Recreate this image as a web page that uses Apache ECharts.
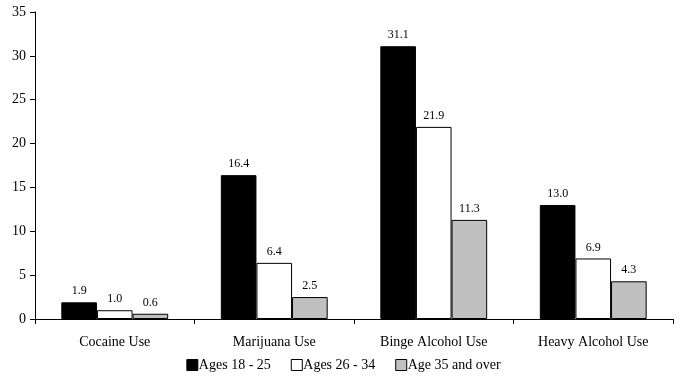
<!DOCTYPE html>
<html><head><meta charset="utf-8">
<script src="https://cdn.jsdelivr.net/npm/echarts@6/dist/echarts.min.js"></script>
<style>html,body{margin:0;padding:0;background:#fff}#c{width:687px;height:382px}</style>
</head><body><div id="c"></div>
<script>
const categories = ['Cocaine Use', 'Marijuana Use', 'Binge Alcohol Use', 'Heavy Alcohol Use'];
const seriesNames = ['Ages 18 - 25', 'Ages 26 - 34', 'Age 35 and over'];
const ages18to25 = [1.9, 16.4, 31.1, 13.0];
const ages26to34 = [1.0, 6.4, 21.9, 6.9];
const ages35over = [0.6, 2.5, 11.3, 4.3];
const colors = ['#000000', '#ffffff', '#c0c0c0'];
const font = 'Liberation Serif';
const chart = echarts.init(document.getElementById('c'));
const data = [ages18to25, ages26to34, ages35over];
chart.setOption({
  animation: false,
  textStyle: { fontFamily: font },
  grid: { left: 35, right: 14, top: 12, bottom: 63, containLabel: false },
  legend: {
    bottom: 5, left: 'center', itemWidth: 11, itemHeight: 11, itemGap: 20,
    icon: 'rect',
    textStyle: { fontFamily: font, fontSize: 14, color: '#000', padding: [0, 0, 0, -4] },
    data: seriesNames.map((n, i) => ({ name: n, itemStyle: { color: colors[i], borderColor: '#000', borderWidth: 1 } }))
  },
  xAxis: {
    type: 'category', data: categories,
    axisLine: { lineStyle: { color: '#000', width: 1 } },
    axisTick: { show: true, length: 5, lineStyle: { color: '#000' } },
    axisLabel: { fontFamily: font, fontSize: 14, color: '#000', margin: 16 }
  },
  yAxis: {
    type: 'value', min: 0, max: 35, interval: 5,
    axisLine: { show: true, lineStyle: { color: '#000', width: 1 } },
    axisTick: { show: true, length: 5, lineStyle: { color: '#000' } },
    splitLine: { show: false },
    axisLabel: { fontFamily: font, fontSize: 14, color: '#000', margin: 9 }
  },
  series: data.map((d, i) => ({
    name: seriesNames[i], type: 'bar', data: d,
    barGap: '0%', barCategoryGap: '33%',
    itemStyle: { color: colors[i], borderColor: '#000', borderWidth: 1 },
    label: { show: true, position: 'top', distance: 5, fontFamily: font, fontSize: 12, color: '#000',
      formatter: p => p.value.toFixed(1) }
  }))
});
</script></body></html>
